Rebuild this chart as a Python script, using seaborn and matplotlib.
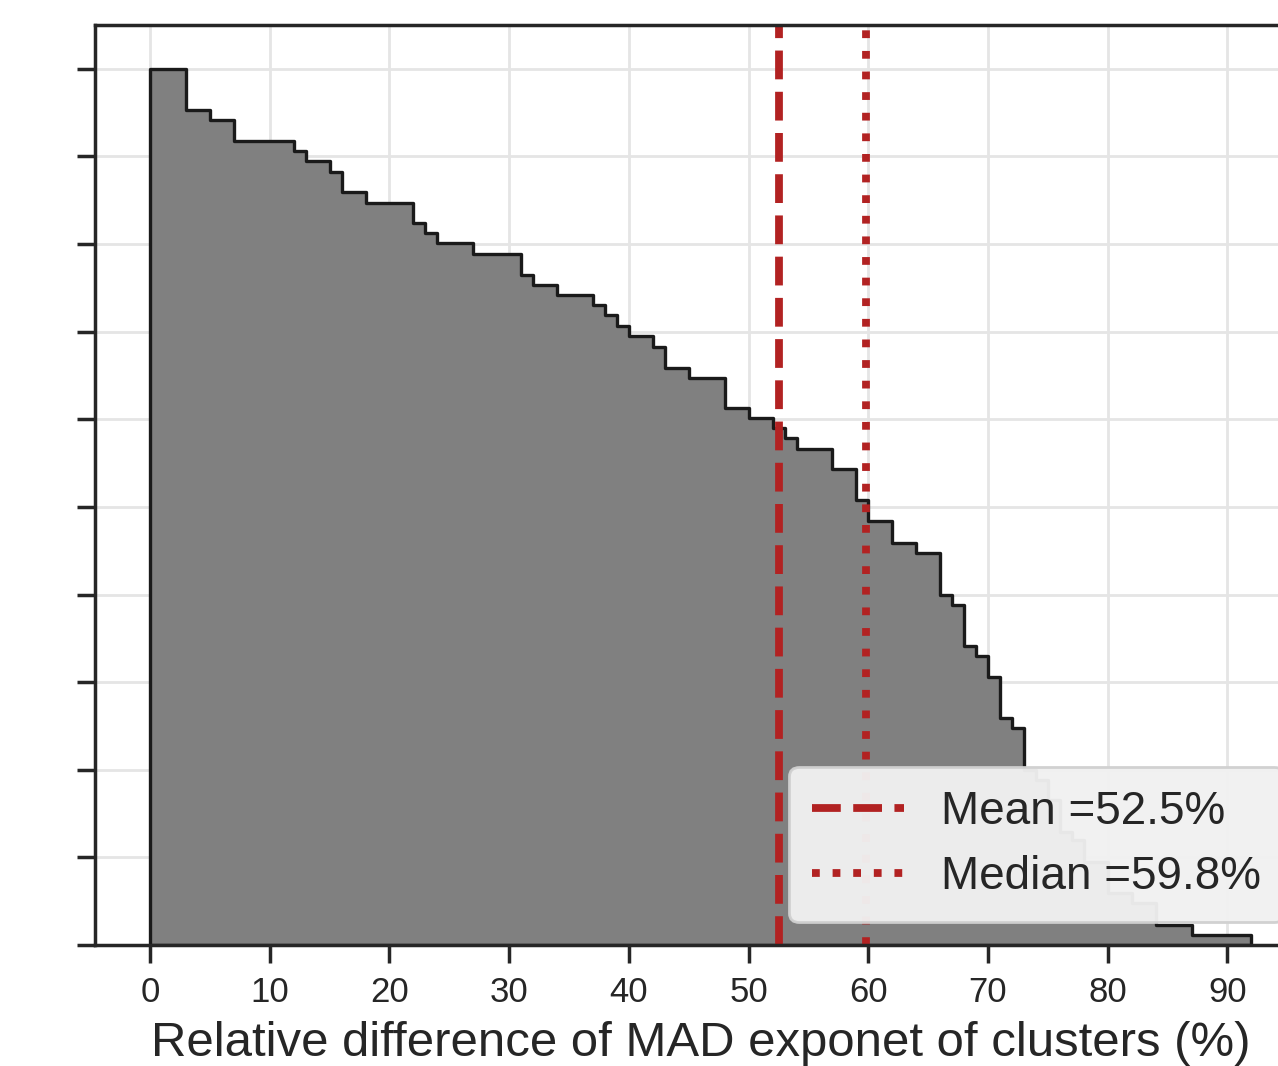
import numpy as np
import pandas as pd
import matplotlib
matplotlib.use("Agg")
import matplotlib.pyplot as plt
import seaborn as sns

# Bin edges (%) and reverse-cumulative fraction of clusters in each bin
bin_edges = [0, 3, 5, 7, 12, 13, 15, 16, 18, 22, 23, 24, 27, 31, 32, 34, 37, 38, 39, 40,
             42, 43, 45, 48, 50, 52, 53, 54, 57, 59, 60, 62, 64, 66, 67, 68, 69, 70, 71,
             72, 73, 74, 75, 76, 77, 78, 80, 82, 84, 87, 92]
fraction = [1.000, 0.953, 0.942, 0.918, 0.906, 0.895, 0.882, 0.860, 0.847, 0.824,
            0.813, 0.801, 0.789, 0.765, 0.753, 0.742, 0.731, 0.719, 0.707, 0.695,
            0.682, 0.659, 0.647, 0.613, 0.602, 0.590, 0.579, 0.566, 0.543, 0.508,
            0.484, 0.459, 0.447, 0.400, 0.388, 0.341, 0.330, 0.306, 0.259, 0.248,
            0.200, 0.188, 0.166, 0.129, 0.120, 0.095, 0.059, 0.048, 0.023, 0.011]
mean_val = 52.5
median_val = 59.8
x_ticks = [0, 10, 20, 30, 40, 50, 60, 70, 80, 90]
y_ticks = [0.0, 0.1, 0.2, 0.3, 0.4, 0.5, 0.6, 0.7, 0.8, 0.9, 1.0]
x_label = "Relative difference of MAD exponet of clusters (%)"

sns.set_style("ticks")
plt.rcParams["font.family"] = ["Liberation Sans", "DejaVu Sans"]
plt.rcParams["axes.edgecolor"] = "#262626"
plt.rcParams["axes.linewidth"] = 1.25
plt.rcParams["xtick.major.width"] = 1.25
plt.rcParams["ytick.major.width"] = 1.25
plt.rcParams["xtick.major.size"] = 6.5
plt.rcParams["ytick.major.size"] = 6.5
plt.rcParams["xtick.major.pad"] = 4.5
plt.rcParams["xtick.color"] = "#262626"
plt.rcParams["ytick.color"] = "#262626"

df = pd.DataFrame({"x": bin_edges[:-1], "w": fraction})

fig = plt.figure(figsize=(6.39, 5.33), dpi=200)
ax = fig.add_axes([0.0743, 0.1135, 0.948, 0.863])

sns.histplot(data=df, x="x", weights="w", bins=bin_edges, element="step", fill=True,
             color="#808080", alpha=1, edgecolor="#1a1a1a", linewidth=1.2, ax=ax)

ax.axvline(mean_val, color="#b22222", ls="--", lw=2.8, label=f"Mean ={mean_val}%")
ax.axvline(median_val, color="#b22222", ls=":", lw=2.8, label=f"Median ={median_val}%")

ax.set_axisbelow(True)
ax.grid(True, color="#e5e5e5", linewidth=1.0)
ax.set_xticks(x_ticks)
ax.set_xticklabels([str(t) for t in x_ticks], fontsize=12.5)
ax.set_yticks(y_ticks)
ax.set_yticklabels([])
ax.set_ylabel("")
ax.set_xlabel(x_label, fontsize=17.7, color="#262626", labelpad=4.5)

leg = ax.legend(loc="lower right", fontsize=16.5, facecolor="#f1f1f1", framealpha=0.96,
                edgecolor="#d0d0d0", fancybox=True, labelspacing=0.46, borderpad=0.5)
for t in leg.get_texts():
    t.set_color("#262626")

fig.savefig("out.png", dpi=200)
